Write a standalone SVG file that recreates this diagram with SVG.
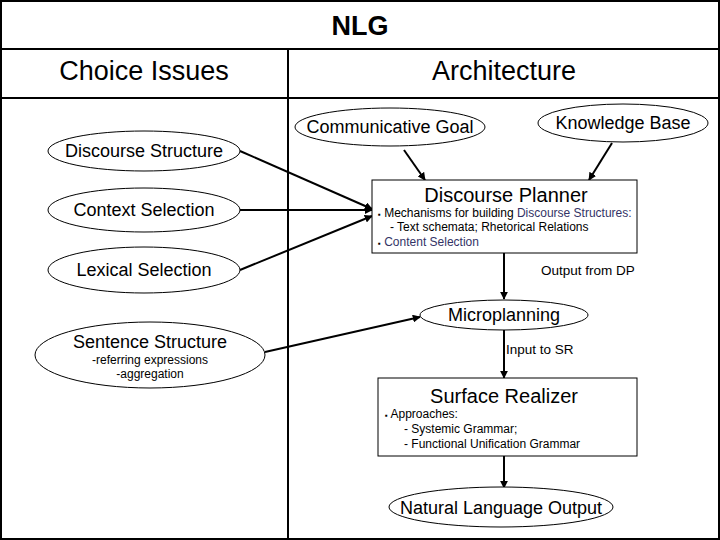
<svg xmlns="http://www.w3.org/2000/svg" width="720" height="540" viewBox="0 0 720 540">
<style>
text{font-family:"Liberation Sans",Arial,sans-serif;fill:#000}
.frame{fill:none;stroke:#000;stroke-width:2}
.node{fill:#fff;stroke:#000;stroke-width:1}
.conn{fill:none;stroke:#000;stroke-width:2}
.t16{font-size:18px;text-anchor:middle}
.t20{font-size:20px;text-anchor:middle}
.t12{font-size:12px}
.lbl{font-size:13.5px}
.hdr{font-size:27px;text-anchor:middle}
.blue{fill:#333366}
</style>
<defs>
<marker id="ah" viewBox="0 0 10 10" refX="9" refY="5" markerWidth="4" markerHeight="4" orient="auto" markerUnits="strokeWidth">
<path d="M0,0 L10,5 L0,10 z" fill="#000"/>
</marker>
</defs>
<rect x="0" y="0" width="720" height="540" fill="#fff"/>
<g id="table">
<rect class="frame" x="1" y="1" width="718" height="538"/>
<line class="frame" x1="0" y1="49" x2="720" y2="49"/>
<line class="frame" x1="0" y1="98" x2="720" y2="98"/>
<line class="frame" x1="288" y1="49" x2="288" y2="540"/>
<text class="hdr" x="360" y="35" font-weight="bold">NLG</text>
<text class="hdr" x="144" y="80">Choice Issues</text>
<text class="hdr" x="504" y="80">Architecture</text>
</g>
<g id="connectors">
<line class="conn" x1="240" y1="151" x2="372" y2="209" marker-end="url(#ah)"/>
<line class="conn" x1="240" y1="210" x2="372" y2="210" marker-end="url(#ah)"/>
<line class="conn" x1="240" y1="270" x2="372" y2="216" marker-end="url(#ah)"/>
<line class="conn" x1="404" y1="150" x2="425" y2="180" marker-end="url(#ah)"/>
<line class="conn" x1="612" y1="143" x2="589" y2="180" marker-end="url(#ah)"/>
<line class="conn" x1="504" y1="253" x2="504" y2="299" marker-end="url(#ah)"/>
<line class="conn" x1="265" y1="352" x2="420" y2="317" marker-end="url(#ah)"/>
<line class="conn" x1="504" y1="330" x2="504" y2="378" marker-end="url(#ah)"/>
<line class="conn" x1="504" y1="456" x2="504" y2="488" marker-end="url(#ah)"/>
<text class="lbl" x="541" y="275">Output from DP</text>
<text class="lbl" x="506" y="354">Input to SR</text>
</g>
<g id="communicative-goal">
<ellipse class="node" cx="390" cy="127" rx="95" ry="19"/>
<text class="t16" x="390" y="133">Communicative Goal</text>
</g>
<g id="knowledge-base">
<ellipse class="node" cx="623" cy="123" rx="85" ry="19"/>
<text class="t16" x="623" y="129">Knowledge Base</text>
</g>
<g id="discourse-structure">
<ellipse class="node" cx="144" cy="151" rx="96" ry="20"/>
<text class="t16" x="144" y="157">Discourse Structure</text>
</g>
<g id="context-selection">
<ellipse class="node" cx="144" cy="210" rx="96" ry="22"/>
<text class="t16" x="144" y="216">Context Selection</text>
</g>
<g id="lexical-selection">
<ellipse class="node" cx="144" cy="270" rx="96" ry="23"/>
<text class="t16" x="144" y="276">Lexical Selection</text>
</g>
<g id="sentence-structure">
<ellipse class="node" cx="150" cy="355" rx="115" ry="33"/>
<text class="t16" x="150" y="348" font-size="19">Sentence Structure</text>
<text class="t12" x="150" y="364" text-anchor="middle">-referring expressions</text>
<text class="t12" x="150" y="378" text-anchor="middle">-aggregation</text>
</g>
<g id="discourse-planner">
<rect class="node" x="372" y="180" width="265" height="73"/>
<text class="t20" x="506" y="202">Discourse Planner</text>
<text class="t12" x="378" y="217"><tspan font-size="8">▪</tspan> Mechanisms for building <tspan class="blue">Discourse Structures:</tspan></text>
<text class="t12" x="390" y="231">- Text schemata; Rhetorical Relations</text>
<text class="t12" x="378" y="246"><tspan font-size="8">▪</tspan> <tspan class="blue">Content Selection</tspan></text>
</g>
<g id="microplanning">
<ellipse class="node" cx="504" cy="315" rx="84" ry="15"/>
<text class="t16" x="504" y="321">Microplanning</text>
</g>
<g id="surface-realizer">
<rect class="node" x="378" y="378" width="259" height="78"/>
<text class="t20" x="504" y="403">Surface Realizer</text>
<text class="t12" x="385" y="418"><tspan font-size="8">▪</tspan> Approaches:</text>
<text class="t12" x="404" y="433">- Systemic Grammar;</text>
<text class="t12" x="404" y="448">- Functional Unification Grammar</text>
</g>
<g id="natural-language-output">
<ellipse class="node" cx="501" cy="507" rx="112" ry="20"/>
<text class="t16" x="501" y="514" font-size="19">Natural Language Output</text>
</g>
</svg>
